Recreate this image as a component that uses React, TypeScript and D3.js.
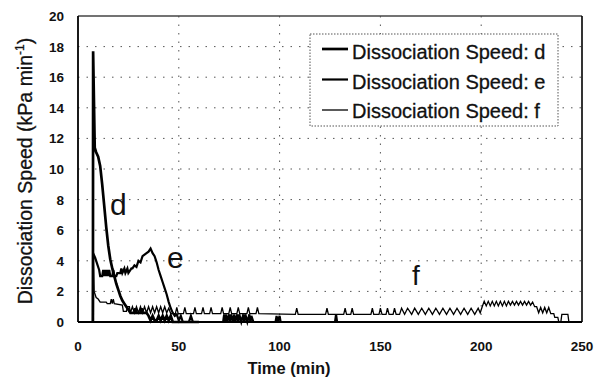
import React from "react";
import * as d3 from "d3";

const xTicks = [0, 50, 100, 150, 200, 250];
const yTicks = [0, 2, 4, 6, 8, 10, 12, 14, 16, 18, 20];
const legendLabels = ["Dissociation Speed: d", "Dissociation Speed: e", "Dissociation Speed: f"];

const dPoints: [number, number][] = [
  [7.4, 0], [7.5, 17.7], [8.3, 11.4], [9, 11.1], [10, 10.8], [11, 10.2], [12, 9.0], [13, 7.6],
  [14, 6.2], [15, 5.0], [16, 4.1], [17, 3.5], [18, 3.0], [19, 2.5], [20, 2.1], [21, 1.7],
  [22, 1.4], [23, 1.2], [24, 1.0], [25, 0.8], [26, 0.6], [28, 0.6], [28.5, 0.9], [29, 0.6],
  [31, 0.6], [31.5, 0.9], [32, 0.6], [34, 0.6], [35, 0.4], [36, 0.1], [37, 0.4], [38, 0.1],
  [39, 0.1], [40, 0.4], [41, 0.1], [42, 0.4], [43, 0.1], [44, 0.4], [45, 0.1], [46, 0.4],
  [47, 0.0], [60, 0.0],
];

const ePoints: [number, number][] = [
  [7.4, 0], [7.5, 4.5], [8.5, 4.2], [9.5, 3.8], [10.5, 3.4], [11, 3.0], [12, 3.0], [12.5, 3.4],
  [13, 3.0], [13.5, 3.4], [14, 3.0], [14.5, 3.4], [15, 3.0], [15.5, 3.4], [16, 3.0], [17, 3.0],
  [17.5, 3.4], [18, 3.0], [19, 3.0], [19.5, 3.2], [21, 3.2], [21.5, 3.5], [22, 3.2], [23, 3.5],
  [23.5, 3.2], [24.5, 3.5], [25, 3.2], [26.5, 3.5], [27, 3.5], [28, 3.7], [29, 3.6], [30, 4.0],
  [31, 3.9], [32, 4.3], [33, 4.4], [34, 4.5], [35, 4.6], [36, 4.8], [37, 4.5], [38, 4.3],
  [39, 3.9], [40, 3.4], [41, 3.0], [42, 2.6], [43, 2.2], [44, 1.8], [45, 1.3], [46, 0.9],
  [47, 0.6], [48, 0.4], [49, 0.5], [50, 0.1], [51, 0.4], [52, 0.0], [55, 0.0], [56, 0.4],
  [57, 0.0], [72, 0.0], [72.5, 0.5], [73, 0.0], [73.5, 0.5], [74, 0.0], [75, 0.5], [75.5, 0.0],
  [76, 0.5], [77, 0.0], [77.5, 0.5], [78, 0.0], [79, 0.5], [79.5, 0.0], [80, 0.5], [81, 0.0],
  [82, 0.5], [82.5, 0.0], [83, 0.5], [84, 0.0], [85, 0.5], [85.5, 0.0], [86, 0.4], [87, 0.0],
  [98, 0.0], [98.5, 0.4], [99, 0.0], [100, 0.4], [100.5, 0.0], [127.5, 0.0], [128, 0.5],
  [128.5, 0.0], [245, 0.0],
];

const fPoints: [number, number][] = [
  [7.4, 0], [7.5, 4.5], [8, 2.0], [9, 1.6], [10, 1.5], [11, 1.3], [14, 1.3], [14.5, 1.2],
  [16, 1.2], [16.5, 1.5], [17, 1.2], [17.5, 1.5], [18, 1.2], [22, 1.1], [22.5, 0.7], [24, 0.7],
  [24.5, 1.0], [25.5, 1.0], [26, 0.6], [27, 1.0], [28, 0.6], [29, 1.0], [30, 0.6], [31, 1.0],
  [32, 0.6], [33, 1.0], [34, 0.6], [35, 1.0], [36, 0.6], [37, 1.0], [38, 0.6], [39, 1.0],
  [40, 0.6], [41, 1.0], [42, 0.6], [43, 1.0], [44, 0.6], [45, 0.9], [46, 0.55],
  [48.3, 0.55], [49, 0.95], [49.7, 0.55], [52.3, 0.55], [53, 0.95], [53.7, 0.55],
  [57.3, 0.55], [58, 0.95], [58.7, 0.55], [61.3, 0.55], [62, 0.95], [62.7, 0.55],
  [65.3, 0.55], [66, 0.95], [66.7, 0.55], [70.8, 0.55], [71.5, 0.95], [72.2, 0.55],
  [74.8, 0.55], [75.5, 0.95], [76.2, 0.55], [78.8, 0.55], [79.5, 0.95], [80.2, 0.55],
  [83.8, 0.55], [84.5, 0.95], [85.2, 0.55], [88.3, 0.55], [89, 0.95], [89.7, 0.55],
  [107.8, 0.5], [108.5, 0.9], [109.2, 0.5], [122.8, 0.5], [123.5, 0.9], [124.2, 0.5],
  [131.8, 0.5], [132.5, 0.9], [133.2, 0.5], [135.3, 0.5], [136, 0.9], [136.7, 0.5],
  [145.3, 0.5], [146, 0.9], [146.7, 0.5], [149.3, 0.5], [150, 0.9], [150.8, 0.5],
  [152.8, 0.5], [153.5, 0.9], [154.3, 0.5], [156.3, 0.5], [157, 0.9], [157.8, 0.5],
  [159.5, 0.5], [160.5, 0.9], [162, 0.5], [163.5, 0.9], [165.5, 0.5], [167, 0.9],
  [168.8, 0.5], [170.5, 0.9], [172.3, 0.5], [174, 0.9], [175.8, 0.5], [177.5, 0.9],
  [179.3, 0.5], [181, 0.9], [182.8, 0.5], [184.5, 0.9], [186.3, 0.5], [188, 0.9],
  [189.8, 0.5], [191.5, 0.9], [193.3, 0.5], [195, 0.9], [196.8, 0.5], [198.5, 0.9],
  [199.5, 0.6], [200.5, 1.0], [201.5, 1.35], [202.5, 1.05], [203.5, 1.35], [204.5, 1.05],
  [205.5, 1.35], [206.5, 1.05], [207.5, 1.35], [208.5, 1.05], [209.5, 1.35], [210.5, 1.05],
  [211.5, 1.35], [212.5, 1.05], [213.5, 1.35], [214.5, 1.1], [215.5, 1.35], [216.5, 1.1],
  [217.5, 1.35], [218.5, 1.1], [219.5, 1.35], [220.5, 1.1], [221.5, 1.35], [222.5, 1.1],
  [223.5, 1.35], [224.5, 1.1], [225.5, 1.3], [226.5, 1.0], [227.5, 1.0], [228.5, 0.6],
  [229.5, 0.95], [230.5, 0.6], [231.5, 0.95], [232.5, 0.6], [233.5, 0.95], [234.5, 0.55],
  [236, 0.55], [236.5, 0.3], [238, 0.3], [238.5, 0.0], [239.5, 0.0], [240, 0.5], [243, 0.5],
  [243.5, 0.0], [246, 0.0],
];

const seriesWidths = [2.7, 2.2, 1.3];

const FONT = "'Liberation Sans', Arial, sans-serif";

export default function App() {
  const left = 78, right = 582, top = 16, bottom = 322;
  const x = d3.scaleLinear().domain([0, 250]).range([left, right]);
  const y = d3.scaleLinear().domain([0, 20]).range([bottom, top]);
  const line = d3
    .line<[number, number]>()
    .x((p) => x(p[0]))
    .y((p) => y(p[1]));
  const series = [dPoints, ePoints, fPoints];

  return (
    <svg
      width={598}
      height={381}
      style={{ position: "absolute", left: 0, top: 0, background: "#fff" }}
      fontFamily={FONT}
    >
      <rect x={0} y={0} width={598} height={381} fill="#fff" />
      {yTicks
        .filter((t) => t > 0 && t < 20)
        .map((t) => (
          <line
            key={"gy" + t}
            x1={left}
            x2={right}
            y1={y(t)}
            y2={y(t)}
            stroke="#555"
            strokeWidth={1}
            strokeDasharray="1.5,7"
          />
        ))}
      {xTicks
        .filter((t) => t > 0 && t < 250)
        .map((t) => (
          <line
            key={"gx" + t}
            x1={x(t)}
            x2={x(t)}
            y1={top}
            y2={bottom}
            stroke="#555"
            strokeWidth={1}
            strokeDasharray="1.5,7"
          />
        ))}
      <line x1={left} x2={right} y1={top} y2={top} stroke="#444" strokeWidth={1.3} />
      <line x1={right} x2={right} y1={top} y2={bottom} stroke="#000" strokeWidth={1.6} />
      <line x1={left} x2={left} y1={top} y2={bottom} stroke="#000" strokeWidth={1.8} />
      <line x1={left} x2={right} y1={bottom} y2={bottom} stroke="#000" strokeWidth={1.8} />
      {series.map((s, i) => (
        <path
          key={"s" + i}
          d={line(s) || ""}
          fill="none"
          stroke="#000"
          strokeWidth={seriesWidths[i]}
          strokeLinejoin="miter"
        />
      ))}
      {yTicks.map((t) => (
        <text
          key={"ty" + t}
          x={64}
          y={y(t) + 5}
          textAnchor="end"
          fontSize={13.5}
          fontWeight="bold"
          fill="#111"
        >
          {t}
        </text>
      ))}
      {xTicks.map((t) => (
        <text
          key={"tx" + t}
          x={x(t)}
          y={351}
          textAnchor="middle"
          fontSize={13.5}
          fontWeight="bold"
          fill="#111"
        >
          {t}
        </text>
      ))}
      <text x={289} y={374} textAnchor="middle" fontSize={16.5} fontWeight="bold" fill="#111">
        Time (min)
      </text>
      <text
        transform="translate(32,171) rotate(-90)"
        textAnchor="middle"
        fontSize={19.5}
        fill="#111"
        stroke="#111"
        strokeWidth={0.3}
      >
        Dissociation Speed (kPa min
        <tspan fontSize={12} dy={-8}>
          -1
        </tspan>
        <tspan dy={8}>)</tspan>
      </text>
      <text x={110} y={215} fontSize={30} fill="#111">d</text>
      <text x={167} y={268} fontSize={30} fill="#111">e</text>
      <text x={412} y={285} fontSize={28} fill="#111">f</text>
      <rect
        x={310}
        y={34}
        width={248}
        height={92}
        fill="#fff"
        stroke="#555"
        strokeWidth={1}
        strokeDasharray="1.5,1.5"
      />
      {legendLabels.map((lab, i) => (
        <g key={"lg" + i}>
          <line
            x1={322}
            x2={348}
            y1={49 + i * 30.5}
            y2={49 + i * 30.5}
            stroke="#000"
            strokeWidth={seriesWidths[i]}
          />
          <text x={352} y={59 + i * 29.5} fontSize={20} fill="#111" stroke="#111" strokeWidth={0.3}>
            {lab}
          </text>
        </g>
      ))}
    </svg>
  );
}
